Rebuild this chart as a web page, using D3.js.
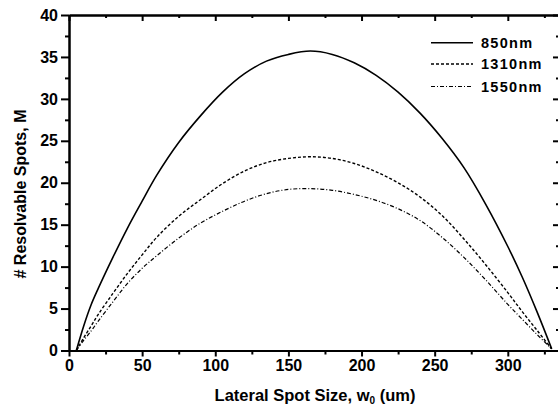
<!DOCTYPE html>
<html>
<head>
<meta charset="utf-8">
<script src="https://cdn.jsdelivr.net/npm/d3@7"></script>
<style>
  body { margin: 0; background: #fff; }
  text { font-family: "Liberation Sans", Arial, sans-serif; font-weight: bold; }
</style>
</head>
<body>
<div id="chart"></div>
<script>
// spot size grid (um)
var spotSize = [5, 10, 15, 20, 30, 40, 50, 60, 75, 90, 105, 120, 135, 150, 165,
                180, 195, 210, 225, 240, 255, 270, 285, 300, 310, 320, 330];
// resolvable spots
var m850  = [0, 2.9, 5.4, 7.4, 11.1, 14.6, 17.8, 20.9, 24.8, 28.0, 30.8, 33.0, 34.5, 35.3, 35.7,
             35.3, 34.3, 32.8, 30.8, 28.3, 25.3, 21.8, 17.4, 12.4, 8.7, 4.6, 0.2];
var m1310 = [0, 1.5, 2.9, 4.3, 6.8, 9.2, 11.4, 13.5, 16.0, 18.0, 19.9, 21.4, 22.4, 22.9, 23.1,
             22.9, 22.3, 21.3, 20.0, 18.3, 16.1, 13.3, 10.2, 6.9, 4.6, 2.4, 0.2];
var m1550 = [0, 1.2, 2.3, 3.5, 5.8, 8.0, 9.8, 11.3, 13.4, 15.2, 16.6, 17.8, 18.7, 19.2, 19.3,
             19.1, 18.6, 17.9, 16.9, 15.5, 13.5, 11.1, 8.4, 5.5, 3.7, 1.9, 0.2];
var seriesNames = ["850nm", "1310nm", "1550nm"];
var xTicks = [0, 50, 100, 150, 200, 250, 300];
var yTicks = [0, 5, 10, 15, 20, 25, 30, 35, 40];

var w = 558, h = 412;
var dashes = [null, "3,2", "4,2,1,2"];
var widths = [1.6, 1.4, 1.2];

var svg = d3.select("#chart").append("svg")
    .attr("width", w).attr("height", h);

var x = d3.scaleLinear().domain([0, 335]).range([69, 559]);
var y = d3.scaleLinear().domain([0, 40]).range([350.5, 15]);

var xMinor = d3.range(25, 335, 50);
var yMinor = d3.range(2.5, 40, 5);

function styleAxis(g) {
    g.select(".domain").attr("stroke", "#000").attr("stroke-width", 2);
    g.selectAll(".tick line").attr("stroke", "#000").attr("stroke-width", 2);
    g.selectAll("text").attr("font-size", 16).attr("fill", "#000")
        .style("font-family", "'Liberation Sans', Arial, sans-serif").style("font-weight", "bold");
}

// bottom axis
svg.append("g").attr("transform", "translate(0," + y(0) + ")")
    .call(d3.axisBottom(x).tickValues(xTicks).tickSize(6).tickPadding(3).tickSizeOuter(0))
    .call(styleAxis);
svg.append("g").attr("transform", "translate(0," + y(0) + ")")
    .call(d3.axisBottom(x).tickValues(xMinor).tickSize(4).tickFormat("").tickSizeOuter(0))
    .call(styleAxis);
// top axis
svg.append("g").attr("transform", "translate(0," + y(40) + ")")
    .call(d3.axisTop(x).tickValues(xTicks).tickSize(-6).tickFormat("").tickSizeOuter(0))
    .call(styleAxis);
svg.append("g").attr("transform", "translate(0," + y(40) + ")")
    .call(d3.axisTop(x).tickValues(xMinor).tickSize(-3).tickFormat("").tickSizeOuter(0))
    .call(styleAxis);
// left axis
svg.append("g").attr("transform", "translate(" + x(0) + ",0)")
    .call(d3.axisLeft(y).tickValues(yTicks).tickSize(8).tickPadding(3).tickSizeOuter(0))
    .call(styleAxis);
svg.append("g").attr("transform", "translate(" + x(0) + ",0)")
    .call(d3.axisLeft(y).tickValues(yMinor).tickSize(4).tickFormat("").tickSizeOuter(0))
    .call(styleAxis);
// right axis
svg.append("g").attr("transform", "translate(" + x(335) + ",0)")
    .call(d3.axisRight(y).tickValues(yTicks).tickSize(-6).tickFormat("").tickSizeOuter(0))
    .call(styleAxis);
svg.append("g").attr("transform", "translate(" + x(335) + ",0)")
    .call(d3.axisRight(y).tickValues(yMinor).tickSize(-3).tickFormat("").tickSizeOuter(0))
    .call(styleAxis);

// curves
var line = d3.line()
    .x(function (d) { return x(d[0]); })
    .y(function (d) { return y(d[1]); })
    .curve(d3.curveCatmullRom.alpha(0.5));

[m850, m1310, m1550].forEach(function (vals, i) {
    var pts = spotSize.map(function (s, j) { return [s, vals[j]]; });
    svg.append("path")
        .datum(pts)
        .attr("d", line)
        .attr("fill", "none")
        .attr("stroke", "#000")
        .attr("stroke-width", widths[i])
        .attr("stroke-dasharray", dashes[i]);
});

// legend
var legendY = [42.7, 64, 86.5];
seriesNames.forEach(function (name, i) {
    svg.append("line")
        .attr("x1", 431).attr("x2", 473)
        .attr("y1", legendY[i]).attr("y2", legendY[i])
        .attr("stroke", "#000")
        .attr("stroke-width", widths[i])
        .attr("stroke-dasharray", dashes[i]);
    svg.append("text")
        .attr("x", 481).attr("y", legendY[i] + 5.2)
        .attr("font-size", 14.5)
        .attr("letter-spacing", 1.3)
        .text(name);
});

// axis titles
svg.append("text")
    .attr("transform", "translate(26,194) rotate(-90)")
    .attr("text-anchor", "middle")
    .attr("font-size", 16)
    .text("# Resolvable Spots, M");

var xt = svg.append("text")
    .attr("x", 315).attr("y", 401)
    .attr("text-anchor", "middle")
    .attr("font-size", 16.5);
xt.append("tspan").text("Lateral Spot Size, w");
xt.append("tspan").attr("font-size", 10).attr("dy", 3).text("0");
xt.append("tspan").attr("dy", -3).text(" (um)");
</script>
</body>
</html>
